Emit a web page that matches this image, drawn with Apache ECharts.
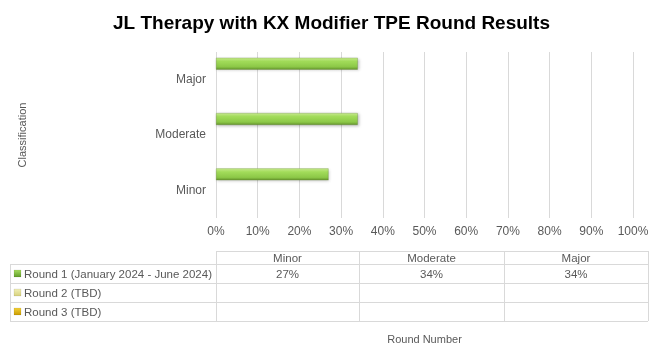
<!DOCTYPE html>
<html><head><meta charset="utf-8">
<script src="https://cdn.jsdelivr.net/npm/echarts@6/dist/echarts.min.js"></script>
<style>html,body{margin:0;padding:0;background:#fff}#c{width:663px;height:364px}</style>
</head><body><div id="c"></div>
<script>
var categories = ['Minor', 'Moderate', 'Major'];
var seriesNames = ['Round 1 (January 2024 - June 2024)', 'Round 2 (TBD)', 'Round 3 (TBD)'];
var round1 = [0.27, 0.34, 0.34];
var round2 = [null, null, null];
var round3 = [null, null, null];
var xTicks = ['0%','10%','20%','30%','40%','50%','60%','70%','80%','90%','100%'];
var seriesColors = ['#8cc63f', '#e6e49a', '#e0b800'];

var FONT = 'Liberation Sans';
var allData = [round1, round2, round3];

var chart = echarts.init(document.getElementById('c'), null, {renderer: 'canvas'});

function barColor(i) {
  if (i === 0) {
    return new echarts.graphic.LinearGradient(0, 0, 0, 1, [
      {offset: 0, color: '#cdf092'},
      {offset: 0.3, color: '#a2dc5a'},
      {offset: 0.75, color: '#8cc847'},
      {offset: 1, color: '#64922c'}
    ]);
  }
  return seriesColors[i];
}

var series = allData.map(function (d, i) {
  return {
    name: seriesNames[i],
    type: 'bar',
    data: d,
    barWidth: 12,
    barGap: '33%',
    barCategoryGap: '20%',
    itemStyle: {color: barColor(i), borderColor: 'rgba(80,120,30,0.5)', borderWidth: 0.5, shadowColor: 'rgba(0,0,0,0.25)', shadowBlur: 3, shadowOffsetY: 1, shadowOffsetX: 1},
    silent: true
  };
});

// Build table graphics
var tL = 10, c0 = 216, colW = [143, 145, 144], tR = 648;
var rowY = [251, 264, 283, 302, 321];
var g = [];
var lineStyle = {stroke: '#d9d9d9', lineWidth: 1};
function hl(x1, x2, y) { g.push({type: 'line', shape: {x1: x1, y1: y + 0.5, x2: x2, y2: y + 0.5}, style: lineStyle, silent: true}); }
function vl(x, y1, y2) { g.push({type: 'line', shape: {x1: x + 0.5, y1: y1, x2: x + 0.5, y2: y2}, style: lineStyle, silent: true}); }
hl(c0, tR, rowY[0]);
for (var r = 1; r < rowY.length; r++) hl(tL, tR, rowY[r]);
vl(tL, rowY[1], rowY[4]);
var xs = [c0];
for (var k = 0; k < colW.length; k++) xs.push(xs[k] + colW[k]);
xs.forEach(function (x) { vl(x, rowY[0], rowY[4]); });
var txt = {fill: '#595959', font: '11.5px "' + FONT + '"'};
categories.forEach(function (c, j) {
  g.push({type: 'text', x: (xs[j] + xs[j + 1]) / 2, y: (rowY[0] + rowY[1]) / 2 + 1, style: Object.assign({text: c, textAlign: 'center', textVerticalAlign: 'middle'}, txt), silent: true});
});
seriesNames.forEach(function (n, i) {
  var ym = (rowY[i + 1] + rowY[i + 2]) / 2;
  g.push({type: 'rect', shape: {x: 14, y: ym - 3.5, width: 7, height: 7},
    style: {fill: i === 0 ? new echarts.graphic.LinearGradient(0,0,0,1,[{offset:0,color:'#a8de60'},{offset:1,color:'#5f9a28'}]) : (i === 1 ? new echarts.graphic.LinearGradient(0,0,0,1,[{offset:0,color:'#f2f0b8'},{offset:1,color:'#d6d07a'}]) : new echarts.graphic.LinearGradient(0,0,0,1,[{offset:0,color:'#f5d23a'},{offset:1,color:'#c89a00'}])), stroke: 'rgba(0,0,0,0.15)', lineWidth: 0.5}, silent: true});
  g.push({type: 'text', x: 24, y: ym + 1, style: Object.assign({text: n, textAlign: 'left', textVerticalAlign: 'middle'}, txt), silent: true});
  allData[i].forEach(function (v, j) {
    if (v == null) return;
    g.push({type: 'text', x: (xs[j] + xs[j + 1]) / 2, y: ym + 1, style: Object.assign({text: Math.round(v * 100) + '%', textAlign: 'center', textVerticalAlign: 'middle'}, txt), silent: true});
  });
});

chart.setOption({
  animation: false,
  backgroundColor: '#ffffff',
  title: {
    text: 'JL Therapy with KX Modifier TPE Round Results',
    left: 'center', top: 9,
    textStyle: {fontFamily: FONT, fontSize: 19, fontWeight: 'bold', color: '#000000'}
  },
  grid: {left: 216, right: 30, top: 52, bottom: 146, containLabel: false},
  xAxis: {
    type: 'value', min: 0, max: 1, interval: 0.1,
    axisLine: {show: false}, axisTick: {show: false},
    splitLine: {show: true, lineStyle: {color: '#d9d9d9', width: 1}},
    axisLabel: {color: '#595959', fontFamily: FONT, fontSize: 12, margin: 8,
      formatter: function (v) { return xTicks[Math.round(v * 10)]; }},
    name: 'Round Number', nameLocation: 'middle', nameGap: 116,
    nameTextStyle: {color: '#595959', fontFamily: FONT, fontSize: 11}
  },
  yAxis: {
    type: 'category', data: categories,
    axisLine: {show: false}, axisTick: {show: false},
    axisLabel: {color: '#595959', fontFamily: FONT, fontSize: 12, margin: 10},
    name: 'Classification', nameLocation: 'middle', nameGap: 188, nameRotate: 90,
    nameTextStyle: {color: '#595959', fontFamily: FONT, fontSize: 11}
  },
  series: series,
  graphic: g
});
</script></body></html>
